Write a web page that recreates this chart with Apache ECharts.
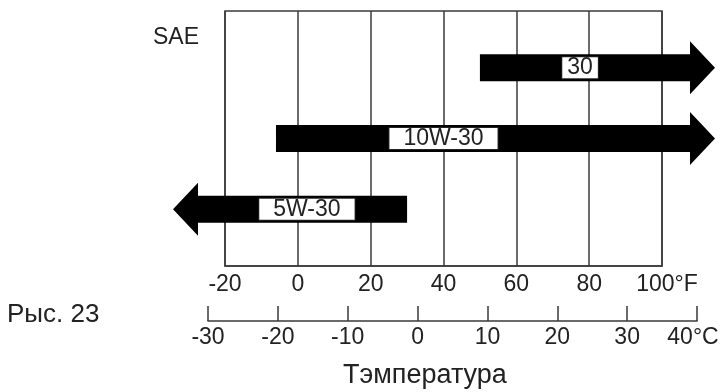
<!DOCTYPE html>
<html><head><meta charset="utf-8">
<script src="https://cdn.jsdelivr.net/npm/echarts@6/dist/echarts.min.js"></script>
<style>html,body{margin:0;padding:0;background:#fff}#c{width:722px;height:392px}</style>
</head><body><div id="c"></div>
<script>
// Data
const grades = ['30', '10W-30', '5W-30'];
const fromF = [50, -6, null];   // null = open (arrow to the left)
const toF = [null, null, 30];   // null = open (arrow to the right)
const labelF = [77.5, 40, 2.5]; // where each grade label sits (°F)
const fTicks = [-20, 0, 20, 40, 60, 80, 100];
const cTicks = [-30, -20, -10, 0, 10, 20, 30, 40];

const FONT = '"Liberation Sans", Arial, sans-serif';
const TXT = '#222';
const LINE = '#3a3a3a';

const rows = grades.map((g, i) => [i + 1, fromF[i], toF[i], labelF[i], g]);

const chart = echarts.init(document.getElementById('c'));
chart.setOption({
  backgroundColor: '#fff',
  animation: false,
  grid: [
    {left: 225, top: 11, width: 437, height: 255, show: true, borderColor: LINE, borderWidth: 1.5, backgroundColor: 'transparent'},
    {left: 208, top: 320, width: 489, height: 1}
  ],
  xAxis: [
    {type: 'value', gridIndex: 0, min: fTicks[0], max: fTicks[fTicks.length - 1], interval: 20,
     axisLine: {show: true, lineStyle: {color: LINE, width: 1.5}},
     axisTick: {show: false},
     splitLine: {show: true, lineStyle: {color: LINE, width: 1.5}},
     axisLabel: {color: TXT, fontSize: 23, fontFamily: FONT, margin: 7,
       formatter: v => v === 100 ? '{u|100°F}' : String(v),
       rich: {u: {fontSize: 23, fontFamily: FONT, color: TXT, padding: [0, 0, 0, 10]}}}},
    {type: 'value', gridIndex: 1, min: cTicks[0], max: cTicks[cTicks.length - 1], interval: 10,
     axisLine: {show: true, onZero: false, lineStyle: {color: LINE, width: 1.5}},
     axisTick: {show: true, inside: true, length: 15, lineStyle: {color: LINE, width: 1.5}},
     splitLine: {show: false},
     axisLabel: {color: TXT, fontSize: 23, fontFamily: FONT, margin: 5,
       formatter: v => v === 40 ? '{u|40°C}' : String(v),
       rich: {u: {fontSize: 23, fontFamily: FONT, color: TXT, padding: [0, 8, 0, 0]}}}}
  ],
  yAxis: [
    {type: 'value', gridIndex: 0, min: 0.2, max: 3.8, inverse: true, show: false, splitLine: {show: false}},
    {type: 'value', gridIndex: 1, show: false, splitLine: {show: false}}
  ],
  graphic: [
    {type: 'text', left: 153, top: 26, style: {text: 'SAE', fontSize: 23, fontFamily: FONT, fill: TXT}},
    {type: 'text', left: 7, top: 302, style: {text: 'Рыс. 23', fontSize: 26, fontFamily: FONT, fill: TXT}},
    {type: 'text', left: 343, top: 362, style: {text: 'Тэмпература', fontSize: 27, fontFamily: FONT, fill: TXT}}
  ],
  series: [{
    type: 'custom',
    xAxisIndex: 0, yAxisIndex: 0,
    clip: false,
    data: rows,
    renderItem: function (params, api) {
      const row = api.value(0);
      const from = rows[params.dataIndex][1];
      const to = rows[params.dataIndex][2];
      const lab = api.value(3);
      const name = rows[params.dataIndex][4];
      const y = api.coord([0, row])[1];
      const leftEdge = api.coord([fTicks[0], row])[0];
      const rightEdge = api.coord([fTicks[fTicks.length - 1], row])[0];
      const hb = 13.5, hh = 26.5, headLen = 25;
      let pts;
      if (to == null) {
        const x0 = api.coord([from, row])[0];
        const base = rightEdge + 28, tip = base + headLen;
        pts = [[x0, y - hb], [base, y - hb], [base, y - hh], [tip, y], [base, y + hh], [base, y + hb], [x0, y + hb]];
      } else {
        const x1 = api.coord([to, row])[0];
        const base = leftEdge - 27, tip = base - headLen;
        pts = [[x1, y - hb], [base, y - hb], [base, y - hh], [tip, y], [base, y + hh], [base, y + hb], [x1, y + hb]];
      }
      const lx = api.coord([lab, row])[0];
      const pad = name.length > 2 ? 14 : 5;
      return {
        type: 'group',
        children: [
          {type: 'polygon', shape: {points: pts}, style: {fill: '#000'}},
          {type: 'text', x: lx, y: y, style: {
            text: name, fontSize: 23, fontFamily: FONT, fill: TXT,
            align: 'center', verticalAlign: 'middle', lineHeight: 21,
            backgroundColor: '#fff', borderColor: '#222', borderWidth: 1,
            padding: [0, pad, 0, pad]}}
        ]
      };
    }
  }]
});
</script></body></html>
